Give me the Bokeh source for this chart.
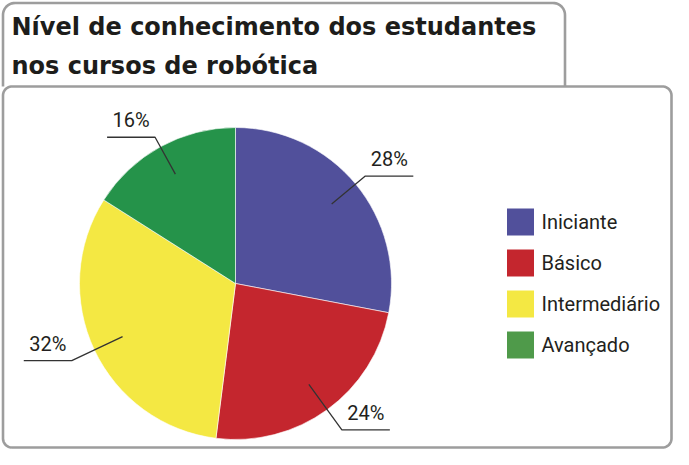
import numpy as np
from bokeh.plotting import figure
from bokeh.models import Range1d, ColumnDataSource
from bokeh.core.properties import value
from bokeh.embed import file_html
from bokeh.resources import INLINE

# ---- data ----
title_lines = ["Nível de conhecimento dos estudantes", "nos cursos de robótica"]
categories = ["Iniciante", "Básico", "Intermediário", "Avançado"]
percentages = [28, 24, 32, 16]
slice_colors = ["#51509B", "#C4262E", "#F4E843", "#25934A"]
legend_colors = ["#51509B", "#C4262E", "#F4E843", "#4F9A4A"]

# ---- layout (pixel frame, y measured upward) ----
FW, FH = 673, 449

p = figure(width=FW, height=FH, x_range=Range1d(0, FW), y_range=Range1d(0, FH),
           output_backend="svg", toolbar_location=None, min_border=0)
p.axis.visible = False
p.grid.visible = False
p.outline_line_color = None
p.background_fill_color = "white"
p.border_fill_color = "white"

BORDER = "#9d9d9d"

def Y(v):
    return FH - v

def rounded_path(x0, top, x1, bottom, r, open_bottom=False):
    xs, ys = [], []
    def arc(cx, cy, a0, a1):
        t = np.linspace(a0, a1, 14)
        xs.extend(cx + r * np.cos(t))
        ys.extend(cy + r * np.sin(t))
    yb, yt = Y(bottom), Y(top)
    if open_bottom:
        xs.append(x0); ys.append(yb)
        arc(x0 + r, yt - r, np.pi, np.pi / 2)
        arc(x1 - r, yt - r, np.pi / 2, 0)
        xs.append(x1); ys.append(yb)
    else:
        arc(x0 + r, yb + r, -np.pi / 2, -np.pi)
        arc(x0 + r, yt - r, np.pi, np.pi / 2)
        arc(x1 - r, yt - r, np.pi / 2, 0)
        arc(x1 - r, yb + r, 0, -np.pi / 2)
        xs.append(xs[0]); ys.append(ys[0])
    return xs, ys

bx, by = rounded_path(2.5, 86, FW - 2, FH - 2, 9)
p.line(bx, by, line_color=BORDER, line_width=2.6)
tx, ty = rounded_path(2.5, 2.5, 564.5, 86, 12, open_bottom=True)
p.line(tx, ty, line_color=BORDER, line_width=2.6)

# title
for i, line in enumerate(title_lines):
    p.text(x=[11], y=[Y(26 + 39.5 * i)], text=[line],
           text_font=value("DejaVu Sans"), text_font_style="bold",
           text_font_size="24px", text_color="#1d1d1b",
           text_baseline="alphabetic", text_align="left")

# pie
cx, cy, R = 235, Y(283), 156
frac = np.array(percentages, dtype=float) / sum(percentages)
cum = np.concatenate([[0.0], np.cumsum(frac)])
start = np.pi / 2 - 2 * np.pi * cum[1:]
end = np.pi / 2 - 2 * np.pi * cum[:-1]
src = ColumnDataSource(dict(start=start, end=end, color=slice_colors, cat=categories))
p.wedge(x=cx, y=cy, radius=R, start_angle="start", end_angle="end",
        fill_color="color", line_color="white", line_width=0.6, source=src)

# leader lines and labels
reach = [1.08, 1.16, 1.16, 1.07]
mid = (start + end) / 2
for i, pct in enumerate(percentages):
    c, s = np.cos(mid[i]), np.sin(mid[i])
    x0, y0 = cx + 0.8 * R * c, cy + 0.8 * R * s
    ex, ey = cx + reach[i] * R * c, cy + reach[i] * R * s
    d = 1 if c > 0 else -1
    hx = ex + d * 48
    p.line([x0, ex, hx], [y0, ey, ey], line_color="#333333", line_width=1.3)
    p.text(x=[(ex + hx) / 2], y=[ey + 17], text=[f"{pct}%"],
           text_font=value("Roboto"), text_font_size="20px",
           text_color="#231f20", text_align="center", text_baseline="alphabetic")

# legend
for i, cat in enumerate(categories):
    yc = Y(221.5 + 41 * i)
    p.rect(x=[520], y=[yc], width=27, height=27,
           fill_color=legend_colors[i], line_color=None)
    p.text(x=[541], y=[yc], text=[cat], text_font=value("Roboto"),
           text_font_size="20px", text_color="#231f20",
           text_align="left", text_baseline="middle")

open("out.html", "w").write(file_html(p, INLINE))
